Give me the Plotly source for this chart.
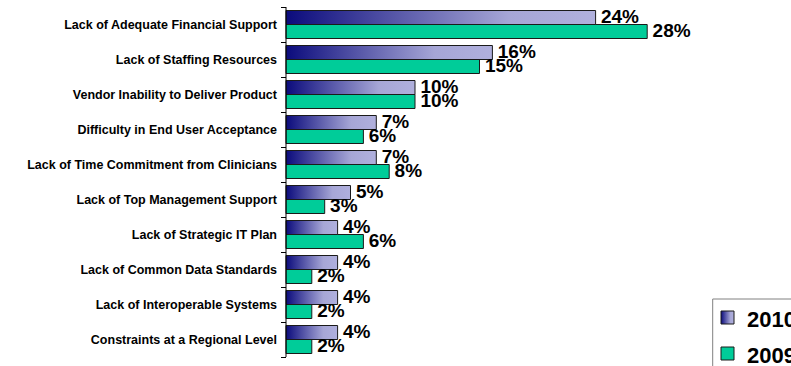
import plotly.graph_objects as go

# Survey barriers, 2010 vs 2009 (percent of respondents)
categories = [
    "Lack of Adequate Financial Support",
    "Lack of Staffing Resources",
    "Vendor Inability to Deliver Product",
    "Difficulty in End User Acceptance",
    "Lack of Time Commitment from Clinicians",
    "Lack of Top Management Support",
    "Lack of Strategic IT Plan",
    "Lack of Common Data Standards",
    "Lack of Interoperable Systems",
    "Constraints at a Regional Level",
]
values_2010 = [24, 16, 10, 7, 7, 5, 4, 4, 4, 4]
values_2009 = [28, 15, 10, 6, 8, 3, 6, 2, 2, 2]
series_names = ["2010", "2009"]

FONT = "Arial, Liberation Sans, sans-serif"
GREEN = "#00CC99"
EDGE = "#1a1a1a"
NAVY_SCALE = [[0, "#0b0b7c"], [0.72, "#a6a6d6"], [1, "#b0b0dd"]]

# Figure geometry (pixels)
W, H = 791, 366
AXIS_PX = 286          # x pixel of the category axis line
TOP_PX = 7             # top of the category band
ROW_PX = 35            # height of one category row
PX_PER_PCT = 12.9      # horizontal scale

BARGAP = 0.2
BAR_W = (1 - BARGAP) / 2


def px_x(px):
    return (px - AXIS_PX) / PX_PER_PCT


def px_y(py):
    return (py - TOP_PX) / ROW_PX - 0.5


pos = list(range(len(categories)))
fig = go.Figure()

# 2010 bars: horizontal gradient polygons
for p, v in zip(pos, values_2010):
    y0, y1 = p - BAR_W, p
    fig.add_trace(go.Scatter(
        x=[0, v, v, 0, 0], y=[y0, y0, y1, y1, y0],
        mode="lines", fill="toself",
        fillgradient=dict(type="horizontal", colorscale=NAVY_SCALE, start=0, stop=v),
        line=dict(color=EDGE, width=1),
        showlegend=False, hoverinfo="skip",
    ))

# 2009 bars
fig.add_trace(go.Bar(
    name=series_names[1], x=values_2009, y=pos, orientation="h",
    offset=0, width=BAR_W,
    marker=dict(color=GREEN, line=dict(color=EDGE, width=1)),
    showlegend=False, hoverinfo="skip",
))

# Value labels
LABEL_FONT = dict(family=FONT, size=19, color="black")
LABEL_DY = 0.03
for vals, centre_shift in ((values_2010, -BAR_W / 2), (values_2009, BAR_W / 2)):
    fig.add_trace(go.Scatter(
        x=vals, y=[p + centre_shift + LABEL_DY for p in pos], mode="markers+text",
        marker=dict(size=7, opacity=0),
        text=[f"<b>{v}%</b>" for v in vals], textposition="middle right",
        textfont=LABEL_FONT, showlegend=False, hoverinfo="skip", cliponaxis=False,
    ))

# Legend: box, swatches and labels
LEG_LEFT, LEG_TOP = 712.7, 299
SW = 13
legend_rows = [(series_names[0], 311), (series_names[1], 347)]
sx0, sx1 = px_x(721), px_x(721 + SW)
for name, top in legend_rows:
    sy0, sy1 = px_y(top), px_y(top + SW)
    common = dict(x=[sx0, sx1, sx1, sx0, sx0], y=[sy0, sy0, sy1, sy1, sy0],
                  mode="lines", fill="toself", line=dict(color=EDGE, width=1),
                  showlegend=False, hoverinfo="skip")
    if name == series_names[0]:
        fig.add_trace(go.Scatter(**common, fillgradient=dict(
            type="horizontal", colorscale=NAVY_SCALE, start=sx0, stop=sx1)))
    else:
        fig.add_trace(go.Scatter(**common, fillcolor=GREEN))
    fig.add_annotation(
        x=px_x(745), y=px_y(top + SW / 2 + 1.5), xref="x", yref="y",
        text=f"<b>{name}</b>", showarrow=False, xanchor="left", yanchor="middle",
        font=dict(family=FONT, size=22, color="black"),
    )

shapes = [
    # legend frame (runs past the right and bottom edges)
    dict(type="rect", xref="x", yref="y",
         x0=px_x(LEG_LEFT), x1=px_x(W + 20), y0=px_y(LEG_TOP), y1=px_y(H + 20),
         line=dict(color="#808080", width=1), fillcolor="rgba(0,0,0,0)", layer="below"),
    # category axis line
    dict(type="line", xref="x", yref="y", x0=0, x1=0, y0=-0.5, y1=len(categories) - 0.5,
         line=dict(color="black", width=1)),
]

fig.update_layout(
    width=W, height=H,
    margin=dict(l=0, r=0, t=0, b=0, pad=0),
    plot_bgcolor="white", paper_bgcolor="white",
    barmode="overlay", showlegend=False, shapes=shapes,
    xaxis=dict(range=[px_x(0), px_x(W)], visible=False, fixedrange=True),
    yaxis=dict(
        range=[px_y(H), px_y(0)], anchor="free", position=AXIS_PX / W,
        tickmode="array", tickvals=pos, ticktext=[f"<b>{c}</b>" for c in categories],
        ticks="", ticklabelstandoff=9,
        tickfont=dict(family=FONT, size=12.5, color="black"),
        showline=False, showgrid=False, zeroline=False,
        minor=dict(tickmode="linear", tick0=-0.5, dtick=1, ticks="outside", ticklen=5,
                   tickcolor="black", tickwidth=1, showgrid=False),
    ),
)

fig.write_html("out.html")
